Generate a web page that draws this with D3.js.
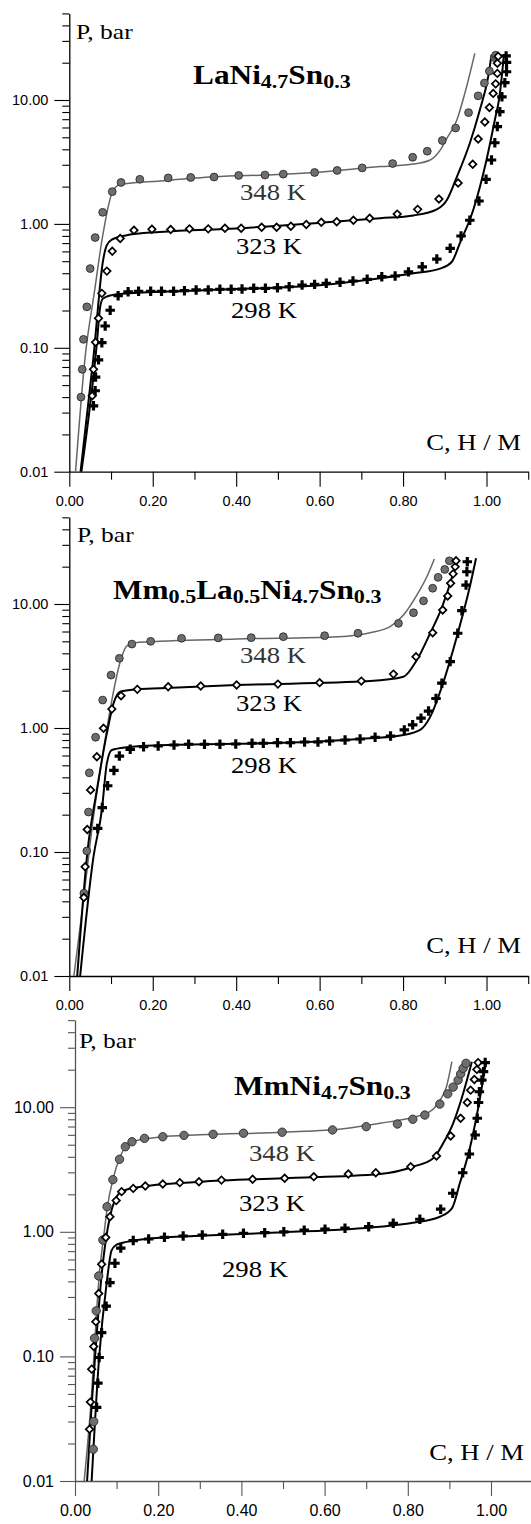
<!DOCTYPE html>
<html><head><meta charset="utf-8">
<script src="https://cdn.jsdelivr.net/npm/d3@7"></script>
<style>body{margin:0;background:#fff}svg{display:block}</style>
</head><body>
<script>
// ---------- tick values ----------
const xMajorTicks = [0, 0.2, 0.4, 0.6, 0.8, 1.0];
const xMinorTicks = [0.1, 0.3, 0.5, 0.7, 0.9, 1.1];
const yMajorTicks = [0.01, 0.1, 1, 10];
const yMinorTicks = [0.02,0.03,0.04,0.05,0.06,0.07,0.08,0.09,0.2,0.3,0.4,0.5,0.6,0.7,0.8,0.9,2,3,4,5,6,7,8,9,20,30,40,50];
const tempLabels = ["348 K", "323 K", "298 K"];
const xTitle = "C, H / M";
const yTitle = "P, bar";

// ---------- panel 1 : LaNi4.7Sn0.3  ([H/M, bar]) ----------
const p1_348_pts = [[0.028,0.040],[0.031,0.067],[0.034,0.117],[0.042,0.214],[0.050,0.436],[0.062,0.776],[0.080,1.24],[0.103,1.82],[0.124,2.16],[0.169,2.29],[0.237,2.35],[0.291,2.37],[0.347,2.39],[0.406,2.46],[0.469,2.48],[0.513,2.52],[0.588,2.60],[0.642,2.70],[0.702,2.83],[0.775,3.07],[0.823,3.45],[0.858,3.86],[0.894,4.71],[0.926,5.94],[0.957,7.91],[0.980,10.8],[0.995,13.7],[1.007,17.1],[1.019,22.0],[1.022,23.0]];
const p1_348_fit = [[0.015,0.01],[0.038,0.0845],[0.060,0.28],[0.081,0.838],[0.105,1.87],[0.122,2.08],[0.217,2.22],[0.347,2.40],[0.50,2.50],[0.588,2.60],[0.745,2.90],[0.825,3.04],[0.865,3.28],[0.889,3.94],[0.905,4.91],[0.929,6.90],[0.948,11.3],[0.972,23.8]];
const p1_323_pts = [[0.055,0.041],[0.058,0.067],[0.063,0.111],[0.070,0.173],[0.078,0.275],[0.090,0.416],[0.103,0.602],[0.122,0.762],[0.155,0.889],[0.198,0.906],[0.243,0.902],[0.288,0.912],[0.333,0.912],[0.373,0.923],[0.412,0.923],[0.461,0.940],[0.497,0.940],[0.531,0.957],[0.568,0.989],[0.604,1.03],[0.641,1.04],[0.681,1.07],[0.720,1.11],[0.786,1.20],[0.835,1.31],[0.886,1.59],[0.932,2.14],[0.967,3.03],[0.980,4.85],[0.996,6.65],[1.007,8.69],[1.016,11.3],[1.022,13.5],[1.026,16.4],[1.026,19.8],[1.028,22.5]];
const p1_323_fit = [[0.027,0.01],[0.058,0.0845],[0.081,0.509],[0.090,0.673],[0.102,0.748],[0.138,0.811],[0.217,0.861],[0.40,0.92],[0.60,1.02],[0.745,1.11],[0.825,1.17],[0.881,1.31],[0.905,1.56],[0.929,2.40],[0.960,4.48],[0.984,8.30],[1.004,15.4],[1.012,23.1]];
const p1_298_pts = [[0.058,0.034],[0.062,0.045],[0.063,0.058],[0.070,0.080],[0.078,0.110],[0.086,0.150],[0.098,0.201],[0.117,0.263],[0.141,0.283],[0.166,0.286],[0.195,0.286],[0.221,0.286],[0.250,0.286],[0.276,0.289],[0.304,0.293],[0.333,0.293],[0.361,0.297],[0.388,0.297],[0.414,0.298],[0.442,0.302],[0.470,0.302],[0.499,0.305],[0.527,0.311],[0.558,0.321],[0.588,0.325],[0.616,0.332],[0.649,0.338],[0.680,0.346],[0.714,0.357],[0.749,0.375],[0.781,0.38],[0.813,0.41],[0.846,0.45],[0.881,0.52],[0.913,0.635],[0.939,0.798],[0.960,1.07],[0.982,1.53],[0.999,2.29],[1.012,3.28],[1.020,4.52],[1.026,6.10],[1.032,8.05],[1.037,10.6],[1.044,13.8],[1.048,16.9],[1.048,20.1],[1.047,22.7]];
const p1_298_fit = [[0.029,0.01],[0.066,0.108],[0.074,0.214],[0.081,0.250],[0.114,0.270],[0.217,0.283],[0.40,0.298],[0.60,0.32],[0.745,0.364],[0.825,0.399],[0.889,0.436],[0.917,0.495],[0.936,0.697],[0.968,1.29],[1.000,3.28],[1.020,6.90],[1.031,10.6],[1.042,23.5]];

// ---------- panel 2 : Mm0.5La0.5Ni4.7Sn0.3 ----------
const p2_348_pts = [[0.035,0.0465],[0.042,0.102],[0.046,0.21],[0.048,0.435],[0.063,0.842],[0.080,1.68],[0.100,2.67],[0.120,3.65],[0.150,4.75],[0.195,5.00],[0.269,5.29],[0.357,5.33],[0.436,5.35],[0.513,5.45],[0.612,5.55],[0.692,5.81],[0.789,6.98],[0.825,8.5],[0.849,10.6],[0.871,13.4],[0.884,16.4],[0.900,19.0],[0.911,22.3]];
const p2_348_fit = [[0.011,0.01],[0.034,0.041],[0.058,0.193],[0.082,0.665],[0.102,1.68],[0.125,3.7],[0.138,4.6],[0.166,4.91],[0.401,5.22],[0.645,5.45],[0.721,5.87],[0.769,6.56],[0.801,8.15],[0.833,11.8],[0.857,16.6],[0.875,23.1]];
const p2_323_pts = [[0.035,0.043],[0.038,0.076],[0.043,0.152],[0.051,0.316],[0.066,0.587],[0.082,0.995],[0.102,1.42],[0.124,1.82],[0.163,2.05],[0.237,2.15],[0.315,2.18],[0.401,2.22],[0.500,2.26],[0.600,2.32],[0.700,2.39],[0.777,2.72],[0.831,3.76],[0.871,5.87],[0.895,8.95],[0.907,11.6],[0.914,14.7],[0.920,17.5],[0.925,20.0],[0.927,22.3]];
const p2_323_fit = [[0.019,0.01],[0.044,0.104],[0.066,0.316],[0.090,0.906],[0.106,1.58],[0.122,1.96],[0.161,2.05],[0.217,2.09],[0.40,2.22],[0.721,2.39],[0.801,2.59],[0.833,3.53],[0.865,5.81],[0.889,8.67],[0.913,14.7],[0.930,22.9]];
const p2_298_pts = [[0.068,0.155],[0.079,0.228],[0.092,0.342],[0.107,0.455],[0.120,0.594],[0.146,0.673],[0.178,0.706],[0.213,0.716],[0.251,0.729],[0.286,0.740],[0.324,0.740],[0.361,0.740],[0.399,0.743],[0.438,0.753],[0.465,0.753],[0.499,0.761],[0.530,0.761],[0.564,0.771],[0.596,0.771],[0.624,0.785],[0.661,0.800],[0.697,0.815],[0.733,0.842],[0.770,0.861],[0.803,0.965],[0.823,1.06],[0.843,1.20],[0.861,1.37],[0.879,1.73],[0.893,2.30],[0.913,3.43],[0.931,5.81],[0.941,8.83],[0.951,14.2],[0.953,18.2],[0.954,21.9]];
const p2_298_fit = [[0.026,0.01],[0.058,0.0916],[0.078,0.218],[0.090,0.519],[0.102,0.665],[0.138,0.70],[0.217,0.725],[0.40,0.745],[0.60,0.78],[0.721,0.826],[0.801,0.879],[0.841,0.965],[0.865,1.23],[0.893,2.15],[0.920,4.26],[0.944,8.41],[0.960,13.8],[0.975,23.4]];

// ---------- panel 3 : MmNi4.7Sn0.3 ----------
const p3_348_pts = [[0.044,0.018],[0.045,0.030],[0.047,0.140],[0.051,0.232],[0.057,0.442],[0.067,0.859],[0.077,1.59],[0.091,2.62],[0.107,3.82],[0.121,4.82],[0.137,5.28],[0.167,5.62],[0.211,5.79],[0.262,5.94],[0.332,6.06],[0.405,6.18],[0.498,6.30],[0.619,6.57],[0.700,6.98],[0.775,7.33],[0.812,8.0],[0.841,8.65],[0.877,10.6],[0.896,12.8],[0.909,14.5],[0.921,16.5],[0.927,18.5],[0.933,20.5],[0.940,22.5]];
const p3_348_fit = [[0.022,0.01],[0.040,0.05],[0.052,0.23],[0.058,0.44],[0.068,0.86],[0.078,1.6],[0.092,2.7],[0.107,3.9],[0.121,4.8],[0.137,5.25],[0.167,5.55],[0.20,5.75],[0.30,6.0],[0.50,6.3],[0.65,6.75],[0.733,7.43],[0.813,8.3],[0.853,9.2],[0.877,11.3],[0.893,14.6],[0.906,23.2]];
const p3_323_pts = [[0.035,0.026],[0.037,0.043],[0.040,0.079],[0.045,0.12],[0.050,0.19],[0.057,0.32],[0.064,0.55],[0.074,0.9],[0.084,1.32],[0.099,1.78],[0.112,2.10],[0.140,2.23],[0.169,2.33],[0.211,2.42],[0.252,2.48],[0.298,2.52],[0.352,2.60],[0.427,2.64],[0.504,2.69],[0.574,2.77],[0.657,2.91],[0.723,2.98],[0.807,3.33],[0.869,4.06],[0.903,5.87],[0.927,8.15],[0.943,10.9],[0.951,13.7],[0.960,16.7],[0.966,20.1],[0.969,22.8]];
const p3_323_fit = [[0.029,0.01],[0.040,0.04],[0.050,0.12],[0.064,0.45],[0.084,1.32],[0.096,1.8],[0.112,2.1],[0.148,2.27],[0.30,2.52],[0.50,2.69],[0.733,2.91],[0.813,3.33],[0.861,3.89],[0.885,5.13],[0.909,7.43],[0.933,12.9],[0.954,23.2]];
const p3_298_pts = [[0.052,0.039],[0.055,0.061],[0.058,0.098],[0.064,0.155],[0.075,0.253],[0.084,0.391],[0.096,0.559],[0.110,0.74],[0.140,0.85],[0.177,0.875],[0.215,0.903],[0.260,0.925],[0.306,0.942],[0.355,0.954],[0.405,0.973],[0.456,0.984],[0.502,1.00],[0.551,1.03],[0.601,1.05],[0.649,1.07],[0.706,1.10],[0.765,1.17],[0.829,1.26],[0.879,1.52],[0.908,2.04],[0.932,2.98],[0.948,4.21],[0.962,5.98],[0.967,8.15],[0.970,10.9],[0.972,13.3],[0.978,16.5],[0.982,19.3],[0.986,22.8]];
const p3_298_fit = [[0.040,0.01],[0.058,0.098],[0.076,0.385],[0.088,0.71],[0.100,0.79],[0.124,0.83],[0.188,0.887],[0.30,0.93],[0.50,0.99],[0.733,1.10],[0.813,1.18],[0.877,1.32],[0.906,1.54],[0.925,2.45],[0.950,4.82],[0.974,12.1],[0.988,23.2]];

// ---------- titles (text with subscripts) ----------
const title1 = [["LaNi",0],["4.7",1],["Sn",0],["0.3",1]];
const title2 = [["Mm",0],["0.5",1],["La",0],["0.5",1],["Ni",0],["4.7",1],["Sn",0],["0.3",1]];
const title3 = [["MmNi",0],["4.7",1],["Sn",0],["0.3",1]];

// ---------- layout ----------
const W = 531, H = 1524;
const SX = 1.16; // horizontal stretch of the serif lettering in the original
const panels = [
  {x0:69.3, ppu:417.2, yBot:471.7, dec:123.9, tf:14.5, series:[p1_348_pts,p1_323_pts,p1_298_pts], fits:[p1_348_fit,p1_323_fit,p1_298_fit],
   title:title1, tpos:[193,84], ypos:[76,39], lpos:[[240,200],[236,254],[231,318]], xtpos:[521,450], axisCol:"#000", r:3.9},
  {x0:69.3, ppu:417.2, yBot:976, dec:124, tf:14.5, series:[p2_348_pts,p2_323_pts,p2_298_pts], fits:[p2_348_fit,p2_323_fit,p2_298_fit],
   title:title2, tpos:[113,599], ypos:[77,542], lpos:[[240,663],[236,711],[231,773]], xtpos:[521,953], axisCol:"#000", r:3.9},
  {x0:75, ppu:416, yBot:1481, dec:124.6, tf:16, series:[p3_348_pts,p3_323_pts,p3_298_pts], fits:[p3_348_fit,p3_323_fit,p3_298_fit],
   title:title3, tpos:[234,1095], ypos:[79,1048], lpos:[[249,1161],[239,1211],[222,1277]], xtpos:[524,1460], axisCol:"#555", r:4.2}
];

const svg = d3.select("body").append("svg").attr("width", W).attr("height", H)
  .style("font-family", "'Liberation Sans', Arial, sans-serif");

const fmt = d3.format(".2f");
const serif = "'Liberation Serif', 'Times New Roman', serif";

function stretchedText(g, x, y, size) {
  return g.append("text").attr("transform", `translate(${x},${y}) scale(${SX},1)`)
    .attr("font-family", serif).attr("font-size", size);
}

panels.forEach((p) => {
  const x = d3.scaleLinear().domain([0, 1.1]).range([p.x0, p.x0 + 1.1 * p.ppu]);
  const y = d3.scaleLog().domain([0.01, 50]).range([p.yBot, p.yBot - p.dec * Math.log10(5000)]);
  const g = svg.append("g");

  // y axis
  g.append("g").attr("transform", `translate(${p.x0},0)`)
    .call(d3.axisLeft(y).tickValues(yMajorTicks).tickSize(15).tickSizeOuter(0).tickPadding(6).tickFormat(fmt));
  g.append("g").attr("transform", `translate(${p.x0},0)`)
    .call(d3.axisLeft(y).tickValues(yMinorTicks).tickSize(7).tickSizeOuter(0).tickFormat(""))
    .select(".domain").remove();
  // x axis
  g.append("g").attr("transform", `translate(0,${p.yBot})`)
    .call(d3.axisBottom(x).tickValues(xMajorTicks).tickSize(15).tickSizeOuter(0).tickPadding(9).tickFormat(fmt));
  g.append("g").attr("transform", `translate(0,${p.yBot})`)
    .call(d3.axisBottom(x).tickValues(xMinorTicks).tickSize(8).tickSizeOuter(0).tickFormat(""))
    .select(".domain").remove();
  g.selectAll(".domain").attr("stroke", p.axisCol).attr("stroke-width", 1.3);
  g.selectAll(".tick line").attr("stroke", p.axisCol).attr("stroke-width", 1.1);
  g.selectAll(".tick text").attr("font-size", p.tf).attr("fill", "#000")
    .style("font-family", "'Liberation Sans', Arial, sans-serif");

  // fitted curves
  const line = d3.line().x(d => x(d[0])).y(d => y(d[1])).curve(d3.curveMonotoneX);
  const lineStyles = [{c:"#666", w:1.5}, {c:"#000", w:2}, {c:"#000", w:2}];
  p.fits.forEach((f, i) => {
    g.append("path").datum(f).attr("d", line).attr("fill", "none")
      .attr("stroke", lineStyles[i].c).attr("stroke-width", lineStyles[i].w);
  });

  // 348 K : grey filled circles
  g.append("g").selectAll("circle").data(p.series[0]).join("circle")
    .attr("cx", d => x(d[0])).attr("cy", d => y(d[1])).attr("r", p.r)
    .attr("fill", "#6e6e6e").attr("stroke", "#2a2a2a").attr("stroke-width", 0.9);
  // 323 K : open diamonds
  const dsym = d3.symbol(d3.symbolSquare, 28);
  g.append("g").selectAll("path").data(p.series[1]).join("path")
    .attr("d", dsym).attr("transform", d => `translate(${x(d[0])},${y(d[1])}) rotate(45)`)
    .attr("fill", "#fff").attr("stroke", "#000").attr("stroke-width", 1.7);
  // 298 K : bold plus
  const psym = d3.symbol(d3.symbolCross, 50);
  g.append("g").selectAll("path").data(p.series[2]).join("path")
    .attr("d", psym).attr("transform", d => `translate(${x(d[0])},${y(d[1])})`)
    .attr("fill", "#000");

  // texts
  stretchedText(g, p.ypos[0], p.ypos[1], 22).text(yTitle);
  stretchedText(g, p.xtpos[0], p.xtpos[1], 23).attr("text-anchor", "end").text(xTitle);
  tempLabels.forEach((t, i) => {
    stretchedText(g, p.lpos[i][0], p.lpos[i][1], 23).attr("fill", i === 0 ? "#333" : "#000").text(t);
  });
  const tt = stretchedText(g, p.tpos[0], p.tpos[1], 27).attr("font-weight", "bold");
  let sub = false;
  p.title.forEach(([s, isSub]) => {
    const span = tt.append("tspan").text(s);
    if (isSub && !sub) { span.attr("dy", 4).attr("font-size", 19); sub = true; }
    else if (isSub) { span.attr("font-size", 19); }
    else if (!isSub && sub) { span.attr("dy", -4).attr("font-size", 27); sub = false; }
  });
});
</script>
</body></html>
